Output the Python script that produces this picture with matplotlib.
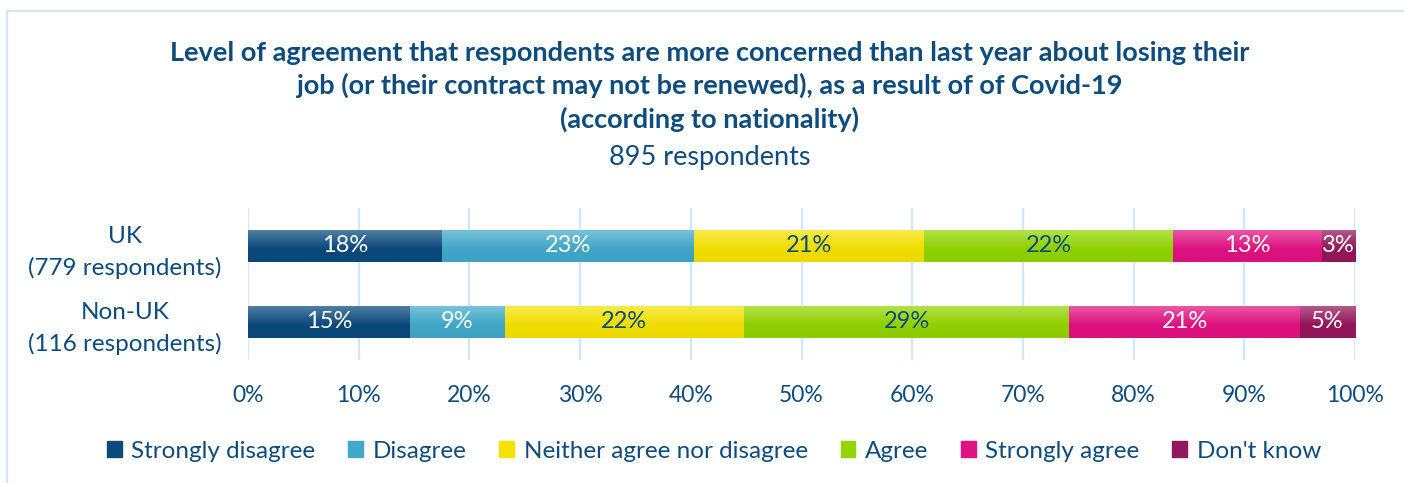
"""
Stacked bar: concern about losing job due to Covid-19, by nationality.
"""

import matplotlib
matplotlib.use("Agg")
import matplotlib.pyplot as plt
import numpy as np
from matplotlib.colors import to_rgb
from matplotlib.lines import Line2D

groups = ["UK\n(779 respondents)", "Non-UK\n(116 respondents)"]
responses = [
    "Strongly disagree",
    "Disagree",
    "Neither agree nor disagree",
    "Agree",
    "Strongly agree",
    "Don't know",
]
uk_values = [17.5, 22.8, 20.8, 22.5, 13.4, 3.0]
non_uk_values = [14.6, 8.6, 21.6, 29.4, 20.8, 5.0]
x_ticks = [0, 10, 20, 30, 40, 50, 60, 70, 80, 90, 100]

colors = ["#0b4a7d", "#42a9cb", "#f5e200", "#93d500", "#e11281", "#95175b"]
label_colors = ["white", "white", "#0e4c7d", "#0e4c7d", "white", "white"]
text_color = "#0e4c7d"
grid_color = "#cfe8fb"

plt.rcParams["font.family"] = ["Lato", "DejaVu Sans"]


def gradient(color, n=24):
    # lighter at the top, base colour at the bottom (office-style bar fill)
    base = np.array(to_rgb(color))
    t = np.linspace(0, 1, n)
    mix = np.clip(0.28 * (1 - t / 0.6), 0, None)[:, None]
    rgb = base * (1 - mix) + mix
    return rgb[:, None, :] * np.linspace(1, 0.96, n)[:, None, None]


def main():
    fig = plt.figure(figsize=(14.04, 4.83), dpi=100)
    ax = fig.add_axes([248 / 1404, 1 - 360 / 483, 1107 / 1404, 152 / 483])

    # frame around the chart area
    fig.add_artist(Line2D([7 / 1404, 1.0], [1 - 11 / 483, 1 - 11 / 483],
                          transform=fig.transFigure, color=grid_color, lw=1.6))
    fig.add_artist(Line2D([7 / 1404, 7 / 1404], [0.0, 1 - 11 / 483],
                          transform=fig.transFigure, color=grid_color, lw=1.6))

    h = 0.41
    data = [uk_values, non_uk_values]
    for row, values in enumerate(data):
        left = 0
        for i, v in enumerate(values):
            ax.barh(row, v, left=left, height=h, color=colors[i], zorder=3)
            ax.imshow(gradient(colors[i]), extent=(left, left + v, row - h / 2, row + h / 2),
                      origin="lower", aspect="auto", interpolation="bilinear", zorder=3.5)
            ax.text(left + v / 2, row, f"{v:.0f}%", ha="center", va="center",
                    color=label_colors[i], fontsize=17, zorder=4)
            left += v

    ax.set_xlim(0, 100)
    ax.set_ylim(1.5, -0.5)
    ax.set_xticks(x_ticks)
    ax.set_xticklabels([f"{t}%" for t in x_ticks])
    ax.set_yticks([0, 1])
    ax.set_yticklabels(groups, multialignment="center", linespacing=1.55)
    ax.tick_params(axis="x", length=0, pad=18, labelsize=16.5, labelcolor=text_color)
    ax.tick_params(axis="y", length=0, pad=19, labelsize=17.5, labelcolor=text_color)
    for s in ax.spines.values():
        s.set_visible(False)
    ax.grid(axis="x", color=grid_color, lw=1.6, zorder=0)
    ax.set_axisbelow(True)

    fig.text(710 / 1404, 1 - 86.5 / 483,
             "Level of agreement that respondents are more concerned than last year about losing their\n"
             "job (or their contract may not be renewed), as a result of of Covid-19\n"
             "(according to nationality)",
             ha="center", va="center", fontsize=19.5, fontweight="bold",
             color=text_color, linespacing=1.38)
    fig.text(710 / 1404, 1 - 158 / 483, "895 respondents", ha="center",
             va="center", fontsize=19.5, color=text_color)

    handles = [plt.Rectangle((0, 0), 1, 1, color=c) for c in colors]
    fig.legend(handles, responses, loc="center", bbox_to_anchor=(714 / 1404, 1 - 451 / 483),
               ncol=6, frameon=False, fontsize=17.5, labelcolor=text_color,
               handlelength=0.6, handleheight=0.6, handletextpad=0.4, columnspacing=1.35)

    fig.savefig("out.png", dpi=100)


if __name__ == "__main__":
    main()
